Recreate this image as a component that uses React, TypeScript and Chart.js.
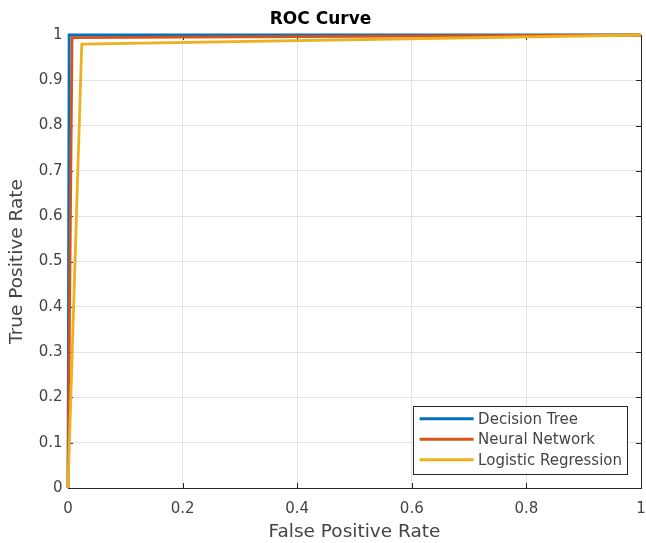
import React, { useEffect, useRef } from 'react';
import { Chart, registerables } from 'chart.js';

Chart.register(...registerables);

const seriesNames = ['Decision Tree', 'Neural Network', 'Logistic Regression'];
const seriesColors = ['#0072BD', '#D95319', '#EDB120'];

const fprDecisionTree = [0, 0.002, 1];
const tprDecisionTree = [0, 1, 1];
const fprNeuralNetwork = [0, 0.007, 1];
const tprNeuralNetwork = [0, 0.994, 1];
const fprLogistic = [0, 0.024, 1];
const tprLogistic = [0, 0.98, 1];

const xTickValues = [0, 0.2, 0.4, 0.6, 0.8, 1];
const xTickLabels = ['0', '0.2', '0.4', '0.6', '0.8', '1'];
const yTickValues = [0, 0.1, 0.2, 0.3, 0.4, 0.5, 0.6, 0.7, 0.8, 0.9, 1];
const yTickLabels = ['0', '0.1', '0.2', '0.3', '0.4', '0.5', '0.6', '0.7', '0.8', '0.9', '1'];

const FONT = 'DejaVu Sans';
const AXIS_COLOR = '#262626';
const TEXT_COLOR = '#444444';

const toPoints = (xs: number[], ys: number[]) => xs.map((x, i) => ({ x, y: ys[i] }));

const boxPlugin = {
  id: 'matlabBox',
  beforeDatasetsDraw(chart: any) {
    const { ctx, chartArea: a, scales } = chart;
    ctx.save();
    ctx.strokeStyle = AXIS_COLOR;
    ctx.lineWidth = 1;
    ctx.beginPath();
    const tl = 5;
    xTickValues.forEach((v) => {
      const px = Math.round(scales.x.getPixelForValue(v)) + 0.5;
      ctx.moveTo(px, a.bottom);
      ctx.lineTo(px, a.bottom - tl);
      ctx.moveTo(px, a.top);
      ctx.lineTo(px, a.top + tl);
    });
    yTickValues.forEach((v) => {
      const py = Math.round(scales.y.getPixelForValue(v)) + 0.5;
      ctx.moveTo(a.left, py);
      ctx.lineTo(a.left + tl, py);
      ctx.moveTo(a.right, py);
      ctx.lineTo(a.right - tl, py);
    });
    ctx.stroke();
    ctx.strokeRect(Math.round(a.left) + 0.5, Math.round(a.top) + 0.5, Math.round(a.right - a.left), Math.round(a.bottom - a.top));
    ctx.restore();
  },
};

const legendPlugin = {
  id: 'insideLegend',
  afterDraw(chart: any) {
    const { ctx, chartArea: a } = chart;
    const ds = chart.data.datasets;
    ctx.save();
    ctx.font = `15px "${FONT}"`;
    let maxW = 0;
    ds.forEach((d: any) => {
      maxW = Math.max(maxW, ctx.measureText(d.label).width);
    });
    const padL = 7;
    const lineLen = 54;
    const gap = 4.5;
    const padR = 5;
    const rowH = 20.5;
    const padV = 3;
    const w = padL + lineLen + gap + maxW + padR;
    const h = padV * 2 + rowH * ds.length;
    const right = a.right - 14;
    const bottom = a.bottom - 15;
    const left = right - w;
    const top = bottom - h;
    ctx.fillStyle = '#ffffff';
    ctx.fillRect(left, top, w, h);
    ctx.strokeStyle = AXIS_COLOR;
    ctx.lineWidth = 1;
    ctx.strokeRect(Math.round(left) + 0.5, Math.round(top) + 0.5, Math.round(w), Math.round(h));
    ds.forEach((d: any, i: number) => {
      const cy = top + padV + rowH * i + rowH / 2;
      ctx.strokeStyle = d.borderColor;
      ctx.lineWidth = 3;
      ctx.beginPath();
      ctx.moveTo(left + padL, cy);
      ctx.lineTo(left + padL + lineLen, cy);
      ctx.stroke();
      ctx.fillStyle = TEXT_COLOR;
      ctx.textBaseline = 'middle';
      ctx.textAlign = 'left';
      ctx.fillText(d.label, left + padL + lineLen + gap, cy + 1);
    });
    ctx.restore();
  },
};

export default function App() {
  const ref = useRef<HTMLCanvasElement | null>(null);

  useEffect(() => {
    document.body.style.margin = '0';
    const canvas = ref.current;
    if (!canvas) return;
    const series = [
      toPoints(fprDecisionTree, tprDecisionTree),
      toPoints(fprNeuralNetwork, tprNeuralNetwork),
      toPoints(fprLogistic, tprLogistic),
    ];
    const chart = new Chart(canvas, {
      type: 'line',
      data: {
        datasets: series.map((pts, i) => ({
          label: seriesNames[i],
          data: pts,
          borderColor: seriesColors[i],
          backgroundColor: seriesColors[i],
          borderWidth: 2.8,
          pointRadius: 0,
          tension: 0,
          fill: false,
          clip: false as any,
          order: 3 - i,
        })),
      },
      options: {
        responsive: false,
        animation: false,
        layout: { padding: { right: 5, left: 0, top: 0, bottom: 0 } },
        plugins: {
          legend: { display: false },
          tooltip: { enabled: false },
          title: {
            display: true,
            text: 'ROC Curve',
            color: '#000000',
            font: { family: FONT, size: 17, weight: 'bold' },
            padding: { top: 9, bottom: 5.6 },
          },
        },
        scales: {
          x: {
            type: 'linear',
            min: 0,
            max: 1,
            afterFit: (s: any) => {
              s.height = 55;
              s.paddingRight = 0;
              s.paddingLeft = 0;
            },
            afterBuildTicks: (s: any) => {
              s.ticks = xTickValues.map((v) => ({ value: v }));
            },
            ticks: {
              color: TEXT_COLOR,
              font: { family: FONT, size: 15 },
              padding: 12,
              maxRotation: 0,
              callback: (_v: any, i: number) => xTickLabels[i],
            },
            grid: { color: '#e3e3e3', drawTicks: false, lineWidth: 1 },
            border: { display: false },
            title: {
              display: true,
              text: 'False Positive Rate',
              color: TEXT_COLOR,
              font: { family: FONT, size: 18.5 },
              padding: { top: 0, bottom: 0 },
            },
          },
          y: {
            type: 'linear',
            min: 0,
            max: 1,
            afterFit: (s: any) => {
              s.width = 68;
              s.paddingTop = 0;
              s.paddingBottom = 0;
            },
            afterBuildTicks: (s: any) => {
              s.ticks = yTickValues.map((v) => ({ value: v }));
            },
            ticks: {
              color: TEXT_COLOR,
              font: { family: FONT, size: 15 },
              padding: 5.5,
              callback: (_v: any, i: number) => yTickLabels[i],
            },
            grid: { color: '#e3e3e3', drawTicks: false, lineWidth: 1 },
            border: { display: false },
            title: {
              display: true,
              text: 'True Positive Rate',
              color: TEXT_COLOR,
              font: { family: FONT, size: 18.5 },
              padding: { top: 6.5, bottom: 0 },
            },
          },
        },
      },
      plugins: [boxPlugin, legendPlugin],
    });
    return () => chart.destroy();
  }, []);

  return (
    <div style={{ width: 646, height: 543 }}>
      <canvas ref={ref} width={646} height={543} style={{ display: 'block' }} />
    </div>
  );
}
